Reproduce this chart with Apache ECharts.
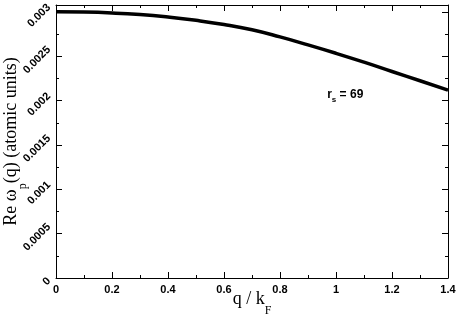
<!DOCTYPE html>
<html>
<head>
<meta charset="utf-8">
<script src="https://cdn.jsdelivr.net/npm/echarts@6/dist/echarts.min.js"></script>
<style>
html, body { margin: 0; padding: 0; background: #fff; }
#chart { width: 456px; height: 315px; }
</style>
</head>
<body>
<div id="chart"></div>
<script>
// data (q in units of k_F, omega in atomic units)
var qValues = [0, 0.1, 0.2, 0.3, 0.4, 0.5, 0.6, 0.7, 0.8, 0.9, 1.0, 1.1, 1.2, 1.3, 1.4];
var omegaValues = [0.003003, 0.003, 0.00299, 0.002972, 0.002944, 0.002907, 0.00286, 0.0028,
                   0.00272, 0.00263, 0.002535, 0.002435, 0.00233, 0.002225, 0.00212];
var yMajorTicks = [0, 0.0005, 0.001, 0.0015, 0.002, 0.0025, 0.003];
var yMinorTicks = [0.00025, 0.00075, 0.00125, 0.00175, 0.00225, 0.00275];
var xMin = 0, xMax = 1.4, xStep = 0.2;
var yMin = 0, yMax = 0.00308;
var rsText = '{r|r}{s|s}{r| = 69}';
var rsPos = [1.033, 0.00206];

var seriesData = [];
for (var i = 0; i < qValues.length; i++) {
    seriesData.push([qValues[i], omegaValues[i]]);
}

var black = '#000';
var sans = 'Liberation Sans';
var serif = 'Liberation Serif';

function yAxisPart(pos, ticks, len, withLine) {
    return {
        type: 'value',
        position: pos,
        min: yMin,
        max: yMax,
        axisLine: { show: withLine, onZero: false, lineStyle: { color: black, width: 1 } },
        axisTick: { show: true, inside: true, length: len, customValues: ticks, lineStyle: { color: black, width: 1 } },
        axisLabel: { show: false },
        splitLine: { show: false }
    };
}

// rotated tick labels: right edge lined up, centre slightly under the tick
function labelStyle(p, q, t) {
    return { fontFamily: sans, fontWeight: 'bold', fontSize: 11, color: black, padding: [t, p, q, 0] };
}

var chart = echarts.init(document.getElementById('chart'));

var yLeft = yAxisPart('left', yMajorTicks, 6, true);
yLeft.axisLabel = {
    show: true,
    customValues: yMajorTicks,
    rotate: 45,
    align: 'center',
    verticalAlign: 'middle',
    margin: 7,
    formatter: function (v) {
        var s = String(v);
        return '{w' + s.length + '|' + s + '}';
    },
    rich: {
        w1: labelStyle(8, 0, 2),
        w5: labelStyle(19, 9, 0),
        w6: labelStyle(22, 12, 0)
    }
};
yLeft.name = '{n|Re ω}{s|p}{n|(q) (atomic units)}';
yLeft.nameLocation = 'middle';
yLeft.nameGap = 34;
yLeft.nameMoveOverlap = false;
yLeft.nameTextStyle = {
    rich: {
        n: { fontFamily: serif, fontSize: 18, color: black, verticalAlign: 'top', lineHeight: 20 },
        s: { fontFamily: serif, fontSize: 12, color: black, verticalAlign: 'top', lineHeight: 14, padding: [15, 0, 0, 0] }
    }
};

function xAxisPart(pos, withLabels) {
    var ax = {
        type: 'value',
        position: pos,
        min: xMin,
        max: xMax,
        interval: xStep,
        axisLine: { show: true, onZero: false, lineStyle: { color: black, width: 1 } },
        axisTick: { show: true, inside: true, length: 6, lineStyle: { color: black, width: 1 } },
        minorTick: { show: true, splitNumber: 2, length: 3, lineStyle: { color: black, width: 1 } },
        axisLabel: { show: withLabels, margin: 6, color: black, fontFamily: sans, fontWeight: 'bold', fontSize: 11 },
        splitLine: { show: false }
    };
    return ax;
}

var xBottom = xAxisPart('bottom', true);
xBottom.name = '{n|q / k}{s|F}';
xBottom.nameLocation = 'middle';
xBottom.nameGap = 12;
xBottom.nameMoveOverlap = false;
xBottom.nameTextStyle = {
    rich: {
        n: { fontFamily: serif, fontSize: 18, color: black, verticalAlign: 'top', lineHeight: 20 },
        s: { fontFamily: serif, fontSize: 12, color: black, verticalAlign: 'top', lineHeight: 14, padding: [15, 0, 0, 0] }
    }
};

var option = {
    backgroundColor: '#fff',
    animation: false,
    grid: { left: 56, right: 8, top: 5, bottom: 37, containLabel: false, outerBoundsMode: 'none' },
    xAxis: [xBottom, xAxisPart('top', false)],
    yAxis: [
        yLeft,
        yAxisPart('left', yMinorTicks, 3, false),
        yAxisPart('right', yMajorTicks, 6, true),
        yAxisPart('right', yMinorTicks, 3, false)
    ],
    series: [
        {
            name: 'omega_p',
            type: 'line',
            xAxisIndex: 0,
            yAxisIndex: 0,
            data: seriesData,
            smooth: true,
            showSymbol: false,
            lineStyle: { color: black, width: 3.5 },
            markPoint: {
                symbol: 'circle',
                symbolSize: 0,
                label: {
                    show: true,
                    position: 'inside',
                    formatter: rsText,
                    rich: {
                        r: { fontFamily: sans, fontWeight: 'bold', fontSize: 12, color: black, verticalAlign: 'top', lineHeight: 14 },
                        s: { fontFamily: sans, fontWeight: 'bold', fontSize: 8, color: black, verticalAlign: 'top', lineHeight: 9, padding: [7, 0, 0, 0] }
                    }
                },
                data: [{ coord: rsPos }]
            }
        }
    ]
};

chart.setOption(option);
</script>
</body>
</html>
